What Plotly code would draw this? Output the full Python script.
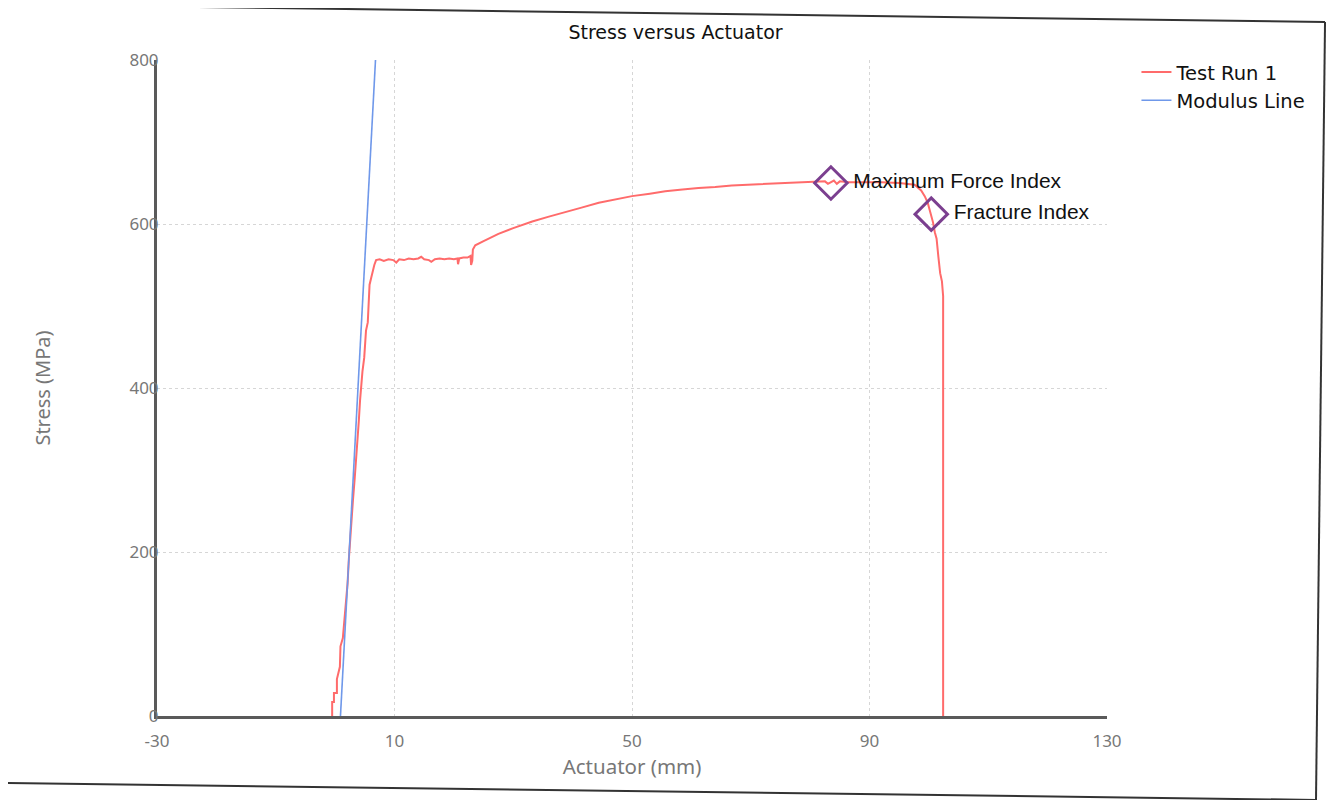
import plotly.graph_objects as go

# ---- data ----
actuator_mm = [
    -0.5, -0.5, -0.2, -0.2, 0.3, 0.3, 0.8, 0.9, 1.3, 1.6, 1.9, 2.1, 2.3, 2.5, 2.8, 3.0,
    3.3, 3.6, 3.8, 4.0, 4.2, 4.4, 4.6, 4.9, 5.1, 5.2, 5.5, 5.6, 5.8, 6.1, 6.3, 6.6, 6.9,
    7.5, 8.2, 9.0, 9.8, 10.3, 10.8, 11.6, 12.4, 13.2, 14.0, 14.5, 15.0, 15.8, 16.2, 16.8,
    17.6, 18.4, 19.2, 20.0, 20.6, 20.7, 20.9, 21.6, 22.3, 22.8, 22.9, 23.1, 23.2, 23.6,
    25.0, 27.5, 30.0, 33.2, 36.0, 38.8, 41.5, 44.4, 47.0, 50.0, 53.0, 55.6, 58.5, 61.2,
    64.0, 66.8, 69.5, 72.4, 75.0, 78.0, 80.5, 82.5, 83.0, 83.5, 84.0, 84.5, 85.0, 86.5,
    89.0, 92.0, 95.0, 96.5, 97.6, 98.7, 99.3, 99.8, 100.4, 100.7, 101.0, 101.3, 101.6,
    101.9, 102.2, 102.4, 102.4,
]
stress_mpa = [
    0, 17, 17, 28, 28, 45, 60, 85, 95, 121, 140, 162, 190, 215, 240, 263,
    290, 316, 340, 361, 385, 409, 420, 437, 455, 470, 480, 498, 526, 535, 543, 550, 556,
    557, 555, 557, 556, 553, 557, 556, 558, 557, 558, 560, 557, 556, 554, 557,
    558, 557, 558, 557, 558, 551, 558, 559, 559, 561, 550, 555, 569, 574,
    579, 588, 595, 603, 609, 615, 620, 626, 630, 634, 637, 640, 642, 644,
    645, 647, 648, 649, 650, 651, 651, 652, 649, 651, 653, 649, 652, 651,
    651, 651, 650, 649, 648, 641, 634, 626, 612, 602, 590, 582, 560,
    540, 530, 512, 0,
]

modulus_x = [0.9, 6.8]
modulus_y = [0, 800]

index_x = [83.5, 100.4]
index_y = [650, 612]
index_labels = ["\u00a0Maximum Force Index", "\u00a0Fracture Index"]

x_ticks = [-30, 10, 50, 90, 130]
x_tick_labels = ["-30", "10", "50", "90", "130"]
y_ticks = [0, 200, 400, 600, 800]

# ---- figure ----
fig = go.Figure()
fig.add_trace(go.Scatter(
    x=actuator_mm, y=stress_mpa, mode="lines", name="Test Run 1",
    line=dict(color="#ff6b6b", width=2),
))
fig.add_trace(go.Scatter(
    x=modulus_x, y=modulus_y, mode="lines", name="Modulus Line",
    line=dict(color="#6f98ea", width=1.6),
))
fig.add_trace(go.Scatter(
    x=index_x, y=index_y, mode="markers+text", text=index_labels,
    textposition="middle right", showlegend=False,
    marker=dict(symbol="diamond-open", size=25, color="#7b3f8f",
                line=dict(width=3, color="#7b3f8f")),
    textfont=dict(family="Liberation Sans, Arial, sans-serif", size=21, color="#111"),
    hoverinfo="skip",
))

frame = dict(type="line", xref="paper", yref="paper",
             line=dict(color="#333", width=2))
fig.update_layout(
    width=1335, height=800,
    margin=dict(l=149, r=236, t=52, b=92),
    paper_bgcolor="white", plot_bgcolor="white",
    font=dict(family="DejaVu Sans, Verdana, sans-serif", color="#777"),
    title=dict(text="Stress versus Actuator", x=0.5, xref="container",
               y=0.97, yref="container", xanchor="center", yanchor="middle",
               font=dict(family="DejaVu Sans, Verdana, sans-serif", size=19, color="#111")),
    showlegend=True,
    legend=dict(x=1.031, y=1.011, xanchor="left", yanchor="top",
                font=dict(family="DejaVu Sans, Verdana, sans-serif", size=19.5, color="#111"),
                bgcolor="rgba(0,0,0,0)", tracegroupgap=0),
    xaxis=dict(range=[-30, 130], tickvals=x_ticks, ticktext=x_tick_labels, showgrid=True,
               gridcolor="#d6d6d6", griddash="dot", gridwidth=1,
               zeroline=False, showline=True, linecolor="#5a5a5a", linewidth=3,
               ticks="outside", ticklen=8, tickcolor="rgba(0,0,0,0)",
               tickfont=dict(family="Noto Sans, sans-serif", size=17, color="#777"),
               title=dict(text="Actuator (mm)", standoff=4,
                          font=dict(family="Noto Sans, sans-serif", size=20.5, color="#777"))),
    yaxis=dict(range=[0, 800], tickvals=y_ticks, showgrid=True,
               gridcolor="#d6d6d6", griddash="dot", gridwidth=1,
               zeroline=False, showline=True, linecolor="#5a5a5a", linewidth=3,
               ticks="", ticklabelstandoff=-8,
               tickfont=dict(family="Noto Sans, sans-serif", size=17, color="#777"),
               title=dict(text="Stress (MPa)", standoff=74,
                          font=dict(family="Noto Sans, sans-serif", size=20, color="#777"))),
    shapes=[
        dict(frame, x0=-0.1653, y0=1.0848, x1=1.2295, y1=1.0579),
        dict(frame, x0=1.2295, y0=1.0579, x1=1.2200, y1=-0.1280),
        dict(frame, x0=-0.1653, y0=-0.1021, x1=1.2200, y1=-0.1280),
    ],
)

fig.write_html("out.html")
